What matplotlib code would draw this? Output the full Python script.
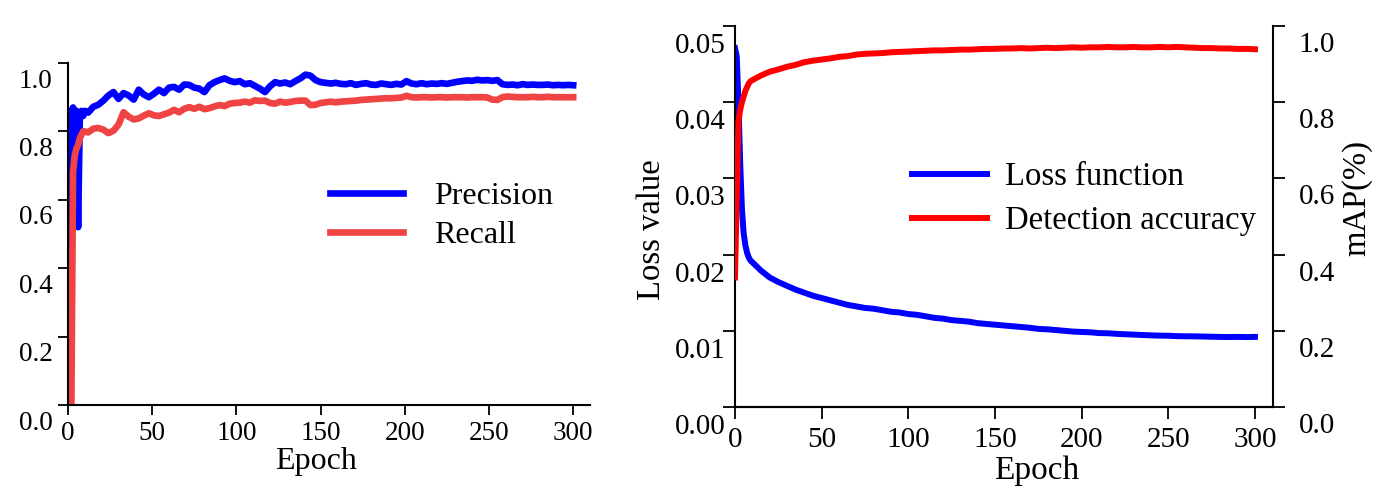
import numpy as np
import matplotlib.pyplot as plt
import matplotlib.transforms as mtransforms

plt.rcParams['font.family'] = ['Liberation Serif', 'DejaVu Serif']

# ---- left chart: precision / recall ----
epochs_l = list(range(0, 11)) + list(range(12, 301, 3))
precision = [0.0, 0.86, 0.74, 0.87, 0.80, 0.86, 0.52, 0.84, 0.86, 0.845, 0.86,
             0.855, 0.872, 0.878, 0.89, 0.905, 0.915, 0.895, 0.912, 0.905, 0.893,
             0.922, 0.908, 0.90, 0.91, 0.922, 0.912, 0.928, 0.93, 0.922, 0.937,
             0.936, 0.928, 0.925, 0.915, 0.935, 0.944, 0.95, 0.955, 0.948, 0.944,
             0.947, 0.938, 0.941, 0.933, 0.925, 0.915, 0.932, 0.944, 0.94, 0.943,
             0.938, 0.947, 0.955, 0.966, 0.963, 0.95, 0.944, 0.942, 0.94, 0.942,
             0.939, 0.938, 0.941, 0.936, 0.939, 0.941, 0.937, 0.936, 0.94, 0.938,
             0.936, 0.939, 0.937, 0.947, 0.94, 0.938, 0.941, 0.938, 0.94, 0.939,
             0.941, 0.939, 0.942, 0.945, 0.947, 0.949, 0.948, 0.951, 0.949, 0.95,
             0.948, 0.95, 0.938, 0.936, 0.937, 0.935, 0.938, 0.936, 0.937, 0.936,
             0.936, 0.937, 0.935, 0.936, 0.935, 0.936, 0.935]
recall = [0.0, 0.0, 0.0, 0.68, 0.73, 0.75, 0.76, 0.78, 0.79, 0.80, 0.80,
          0.797, 0.808, 0.81, 0.805, 0.795, 0.802, 0.82, 0.856, 0.843, 0.835,
          0.838, 0.846, 0.853, 0.847, 0.845, 0.85, 0.855, 0.863, 0.856, 0.866,
          0.871, 0.866, 0.872, 0.865, 0.868, 0.873, 0.877, 0.874, 0.881, 0.883,
          0.884, 0.887, 0.884, 0.891, 0.889, 0.89, 0.883, 0.881, 0.887, 0.884,
          0.886, 0.889, 0.89, 0.89, 0.877, 0.878, 0.883, 0.885, 0.887, 0.885,
          0.887, 0.888, 0.889, 0.89, 0.892, 0.893, 0.894, 0.895, 0.896, 0.897,
          0.897, 0.898, 0.899, 0.904, 0.90, 0.899, 0.90, 0.90, 0.899, 0.90,
          0.90, 0.899, 0.90, 0.90, 0.90, 0.899, 0.90, 0.90, 0.90, 0.899,
          0.893, 0.892, 0.90, 0.902, 0.901, 0.90, 0.90, 0.90, 0.901, 0.90,
          0.90, 0.901, 0.90, 0.90, 0.90, 0.90, 0.90]

# ---- right chart: loss / mAP ----
epochs_r = list(range(0, 10)) + list(range(10, 301, 5))
loss = [0.0471, 0.046, 0.040, 0.032, 0.026, 0.0228, 0.0212, 0.0202, 0.0196, 0.0192,
        0.0190, 0.0179, 0.0170, 0.0164, 0.0159, 0.0154, 0.0150, 0.0146, 0.0143, 0.0140,
        0.0137, 0.0134, 0.0132, 0.0130, 0.0129, 0.0127, 0.0125, 0.0124, 0.0122, 0.0121,
        0.0119, 0.0117, 0.0116, 0.0114, 0.0113, 0.0112, 0.0110, 0.0109, 0.0108, 0.0107,
        0.0106, 0.0105, 0.0104, 0.01025, 0.0102, 0.0101, 0.0100, 0.0099, 0.00985, 0.0098,
        0.0097, 0.00968, 0.0096, 0.00955, 0.0095, 0.00945, 0.0094, 0.00937, 0.00935, 0.0093,
        0.00928, 0.00927, 0.00925, 0.00922, 0.0092, 0.00918, 0.0092, 0.00918, 0.0092]
mAP = [0.34, 0.55, 0.75, 0.78, 0.80, 0.815, 0.83, 0.84, 0.85, 0.855,
       0.858, 0.870, 0.880, 0.886, 0.893, 0.898, 0.905, 0.909, 0.912, 0.915,
       0.919, 0.921, 0.925, 0.927, 0.928, 0.929, 0.931, 0.932, 0.933, 0.934,
       0.935, 0.936, 0.936, 0.937, 0.938, 0.938, 0.939, 0.940, 0.940, 0.941,
       0.941, 0.942, 0.941, 0.942, 0.943, 0.942, 0.943, 0.944, 0.943, 0.944,
       0.944, 0.945, 0.944, 0.944, 0.945, 0.944, 0.944, 0.945, 0.944, 0.945,
       0.944, 0.943, 0.942, 0.942, 0.941, 0.941, 0.940, 0.940, 0.939]

W, H = 1373, 486
fig = plt.figure(figsize=(W / 100, H / 100), dpi=100)


def shift_down(ax, labels, px):
    off = mtransforms.ScaledTranslation(0, -px / 100, fig.dpi_scale_trans)
    for lab in labels:
        lab.set_transform(lab.get_transform() + off)


# left panel
ax1 = fig.add_axes([68 / W, (H - 405) / H, 522 / W, 342 / H])
ax1.plot(epochs_l, precision, color='#0000ff', lw=4.8, label='Precision')
ax1.plot(epochs_l, recall, color='#f04444', lw=4.8, label='Recall')
ax1.set_xlim(0, 310)
ax1.set_ylim(0, 1.0)
ax1.spines['top'].set_visible(False)
ax1.spines['right'].set_visible(False)
for s in ax1.spines.values():
    s.set_linewidth(1.5)
ax1.set_xticks(range(0, 301, 50))
ax1.set_yticks([0, 0.2, 0.4, 0.6, 0.8, 1.0])
ax1.set_yticklabels(['0.0', '0.2', '0.4', '0.6', '0.8', '1.0'])
ax1.tick_params(direction='out', length=7.5, width=1.3, labelsize=19.5)
ax1.tick_params(axis='y', pad=3.5)
ax1.tick_params(axis='x', pad=4)
shift_down(ax1, ax1.get_yticklabels(), 15)
ax1.legend(loc='center left', bbox_to_anchor=(330 / W, 1 - 216 / H),
           bbox_transform=fig.transFigure, frameon=False, fontsize=23,
           handlelength=2.3, handletextpad=0.95, labelspacing=0.3,
           borderpad=0, borderaxespad=0)
fig.text(316 / W, 1 - 461 / H, 'Epoch', ha='center', va='center', fontsize=23)

# right panel
ax2 = fig.add_axes([735 / W, (H - 407) / H, 538 / W, 381 / H])
l1, = ax2.plot(epochs_r, loss, color='#0000ff', lw=4.3, label='Loss function')
ax2.set_xlim(0, 310.4)
ax2.set_ylim(0, 0.05)
ax3 = ax2.twinx()
l2, = ax3.plot(epochs_r, mAP, color='#ff0000', lw=4.3, label='Detection accuracy')
ax3.set_ylim(0, 1.0)
for a in (ax2, ax3):
    a.spines['top'].set_visible(False)
    for s in a.spines.values():
        s.set_linewidth(1.5)
ax2.spines['right'].set_visible(False)
ax3.spines['left'].set_visible(False)
ax2.set_xticks(range(0, 301, 50))
ax2.set_yticks([0, 0.01, 0.02, 0.03, 0.04, 0.05])
ax2.set_yticklabels(['0.00', '0.01', '0.02', '0.03', '0.04', '0.05'])
ax3.set_yticks([0, 0.2, 0.4, 0.6, 0.8, 1.0])
ax3.set_yticklabels(['0.0', '0.2', '0.4', '0.6', '0.8', '1.0'])
ax2.tick_params(direction='out', length=8.5, width=1.3, labelsize=21)
ax2.tick_params(axis='y', pad=-1.5)
ax2.tick_params(axis='x', pad=6)
ax3.tick_params(direction='out', length=8.5, width=1.3, labelsize=21, pad=10)
shift_down(ax2, ax2.get_yticklabels(), 17)
shift_down(ax3, ax3.get_yticklabels(), 16)
ax3.legend(handles=[l1, l2], loc='center left', bbox_to_anchor=(912 / W, 1 - 199 / H),
           bbox_transform=fig.transFigure, frameon=False, fontsize=23.5,
           handlelength=2.3, handletextpad=0.55, labelspacing=0.4,
           borderpad=0, borderaxespad=0)
fig.text(652 / W, 1 - 230 / H, 'Loss value', rotation=90, ha='center', va='center', fontsize=23.5)
fig.text(1357 / W, 1 - 198 / H, 'mAP(%)', rotation=90, ha='center', va='center', fontsize=23.5)
fig.text(1037 / W, 1 - 471 / H, 'Epoch', ha='center', va='center', fontsize=24)

fig.savefig('out.png', dpi=100)
